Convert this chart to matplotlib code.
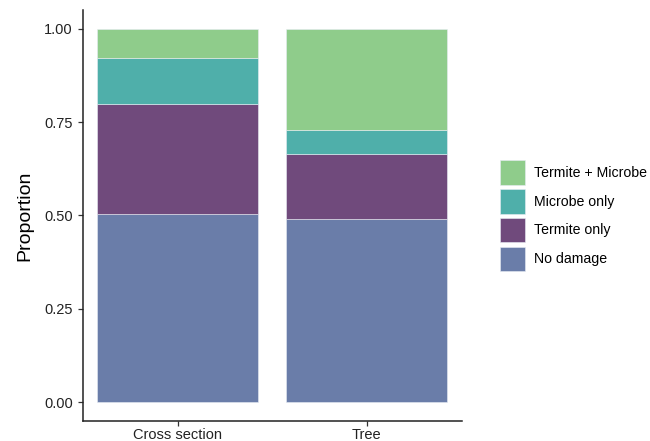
import numpy as np
import matplotlib.pyplot as plt

plt.rcParams['font.family'] = ['Liberation Sans', 'DejaVu Sans']

# data
groups = ["Cross section", "Tree"]
categories = ["No damage", "Termite only", "Microbe only", "Termite + Microbe"]
no_damage = [0.503, 0.490]
termite_only = [0.295, 0.175]
microbe_only = [0.125, 0.064]
termite_microbe = [0.077, 0.271]
colors = ["#6a7da9", "#704a7c", "#4fafaa", "#8fcc8b"]

series = [no_damage, termite_only, microbe_only, termite_microbe]

fig = plt.figure(figsize=(6.5, 4.41), dpi=100)
ax = fig.add_axes([0.127, 0.046, 0.583, 0.931])

x = np.arange(1, len(groups) + 1)
bottom = np.zeros(len(groups))
handles = []
for vals, col, lab in zip(series, colors, categories):
    b = ax.bar(x, vals, width=0.85, bottom=bottom, color=col, label=lab,
               edgecolor="#e8ecf4", linewidth=0.4)
    handles.append(b)
    bottom += np.array(vals)

ax.set_xlim(0.498, 2.5)
ax.set_ylim(-0.05, 1.05)
ax.set_xticks(x)
ax.set_xticklabels(groups, fontsize=10.5, color="#222222")
ax.set_yticks([0, 0.25, 0.5, 0.75, 1.0])
ax.set_yticklabels(["0.00", "0.25", "0.50", "0.75", "1.00"], fontsize=10.5, color="#222222")
ax.set_ylabel("Proportion", fontsize=14, labelpad=8)
ax.spines["top"].set_visible(False)
ax.spines["right"].set_visible(False)
for s in ["left", "bottom"]:
    ax.spines[s].set_linewidth(1.1)
    ax.spines[s].set_color("#222222")
ax.tick_params(length=3.5, width=0.9, color="#333333")
ax.tick_params(axis="x", pad=1.5)

leg = fig.legend(handles[::-1], categories[::-1], loc="center left",
                 bbox_to_anchor=(0.769, 0.511), frameon=False, fontsize=10.2,
                 handlelength=1.75, handleheight=2.3, handletextpad=0.65,
                 labelspacing=0.3, borderpad=0, borderaxespad=0)
for p in leg.get_patches():
    p.set_edgecolor("#e8ecf4")

fig.savefig("out.png", dpi=100)
